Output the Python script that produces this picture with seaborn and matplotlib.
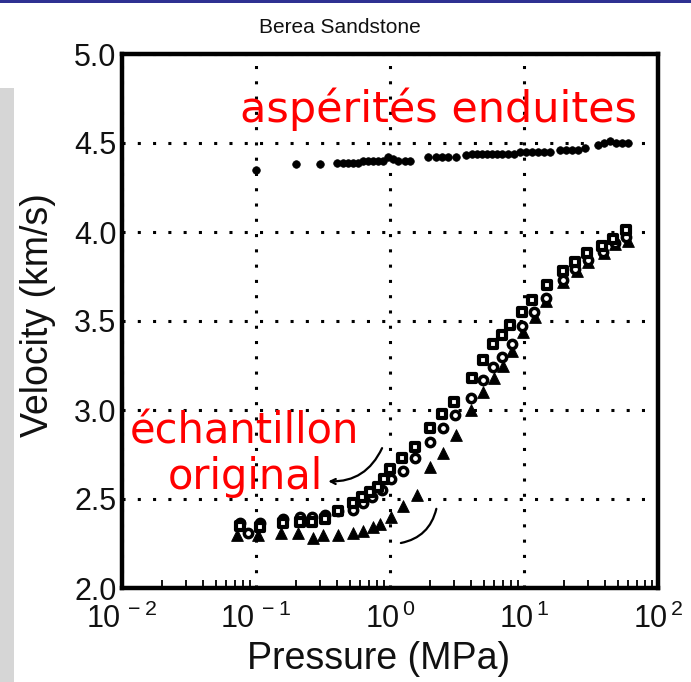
import matplotlib
matplotlib.use("Agg")
import matplotlib.pyplot as plt
import seaborn as sns
from matplotlib.patches import Rectangle
from matplotlib.ticker import LogLocator, NullFormatter

# Coated asperities (filled dots)
coated_p = [0.10, 0.20, 0.30, 0.40, 0.446, 0.486, 0.53, 0.577, 0.629, 0.686,
            0.746, 0.813, 0.887, 0.966, 1.05, 1.15, 1.29, 1.41, 1.92, 2.20,
            2.44, 2.71, 3.11, 3.69, 4.09, 4.46, 4.86, 5.30, 5.77, 6.29,
            6.85, 7.60, 8.41, 9.33, 10.3, 11.5, 12.7, 14.1, 15.6, 18.6,
            20.6, 22.8, 25.3, 28.5, 35.6, 39.5, 43.8, 48.6, 53.8, 59.7]
coated_v = [4.35, 4.38, 4.38, 4.39, 4.39, 4.39, 4.39, 4.39, 4.40, 4.40,
            4.40, 4.40, 4.40, 4.42, 4.41, 4.40, 4.40, 4.40, 4.42, 4.42,
            4.42, 4.42, 4.42, 4.43, 4.44, 4.44, 4.44, 4.44, 4.44, 4.44,
            4.44, 4.44, 4.44, 4.45, 4.45, 4.45, 4.45, 4.45, 4.45, 4.46,
            4.46, 4.46, 4.46, 4.47, 4.49, 4.50, 4.51, 4.50, 4.50, 4.50]

# Original sample, three measurement sets
square_p = [0.076, 0.107, 0.158, 0.213, 0.262, 0.327, 0.409, 0.525, 0.62, 0.71,
            0.81, 0.90, 1.00, 1.23, 1.54, 1.99, 2.45, 3.0, 4.1, 4.94,
            5.87, 6.85, 7.8, 9.66, 11.5, 14.9, 19.5, 24.0, 29.3, 38.0,
            46.0, 58.0]
square_v = [2.35, 2.34, 2.365, 2.37, 2.37, 2.39, 2.43, 2.48, 2.51, 2.54,
            2.57, 2.61, 2.67, 2.73, 2.79, 2.90, 2.98, 3.045, 3.18, 3.28,
            3.37, 3.42, 3.48, 3.55, 3.62, 3.70, 3.78, 3.83, 3.88, 3.92,
            3.96, 4.01]

circle_p = [0.076, 0.087, 0.107, 0.158, 0.213, 0.262, 0.327, 0.409, 0.525, 0.625,
            0.73, 0.87, 1.02, 1.24, 1.54, 1.99, 2.47, 3.05, 4.02, 4.94,
            5.87, 6.85, 8.2, 9.66, 11.9, 14.6, 19.5, 24.0, 30.0, 38.9,
            47.6, 58.0]
circle_v = [2.365, 2.31, 2.365, 2.39, 2.40, 2.40, 2.41, 2.43, 2.44, 2.48,
            2.51, 2.55, 2.61, 2.66, 2.73, 2.82, 2.90, 2.97, 3.07, 3.17,
            3.24, 3.30, 3.37, 3.47, 3.55, 3.63, 3.73, 3.79, 3.84, 3.89,
            3.94, 3.97]

triangle_p = [0.072, 0.103, 0.154, 0.206, 0.266, 0.315, 0.409, 0.53, 0.625, 0.75,
              0.84, 1.02, 1.24, 1.58, 1.99, 2.47, 3.1, 4.02, 4.94, 5.96,
              6.97, 8.2, 9.83, 12.1, 14.6, 19.5, 24.7, 30.0, 39.5, 47.6,
              59.5]
triangle_v = [2.30, 2.30, 2.31, 2.31, 2.28, 2.30, 2.30, 2.31, 2.32, 2.34,
              2.36, 2.40, 2.46, 2.52, 2.68, 2.76, 2.86, 3.00, 3.10, 3.18,
              3.25, 3.33, 3.44, 3.52, 3.61, 3.72, 3.78, 3.83, 3.88, 3.93,
              3.95]

x_ticks = [0.01, 0.1, 1, 10, 100]
x_tick_labels = [r"$\mathdefault{10^{\,-2}}$", r"$\mathdefault{10^{\,-1}}$",
                 r"$\mathdefault{10^{\,0}}$", r"$\mathdefault{10^{\,1}}$",
                 r"$\mathdefault{10^{\,2}}$"]
y_ticks = [2.0, 2.5, 3.0, 3.5, 4.0, 4.5, 5.0]

sns.set_theme(style="white")
plt.rcParams["font.family"] = ["Liberation Sans", "DejaVu Sans"]
plt.rcParams["mathtext.fontset"] = "custom"
plt.rcParams["mathtext.rm"] = "Liberation Sans"
plt.rcParams["axes.unicode_minus"] = False

fig = plt.figure(figsize=(6.91, 6.82), dpi=100)
fig.patch.set_facecolor("white")

# slide frame: blue rule at the top, grey panel down the left edge
fig.patches.append(Rectangle((0, 1 - 3 / 682), 1, 3 / 682, transform=fig.transFigure,
                             facecolor="#2e3192", edgecolor="none", zorder=0))
fig.patches.append(Rectangle((0, 0), 14 / 691, (682 - 88) / 682, transform=fig.transFigure,
                             facecolor="#d6d6d6", edgecolor="none", zorder=0))

ax = fig.add_axes([122 / 691, 1 - 588 / 682, 536 / 691, 534 / 682])
ax.set_xscale("log")

sns.scatterplot(x=triangle_p, y=triangle_v, marker="^", s=72, color="black",
                edgecolor="black", linewidth=0.6, ax=ax, zorder=3)
sns.scatterplot(x=circle_p, y=circle_v, marker="o", s=36, facecolor="white",
                edgecolor="black", linewidth=2.5, ax=ax, zorder=4)
sns.scatterplot(x=square_p, y=square_v, marker="s", s=32, facecolor="white",
                edgecolor="black", linewidth=3.0, ax=ax, zorder=5)
sns.scatterplot(x=coated_p, y=coated_v, marker="o", s=30, color="black",
                edgecolor="black", linewidth=0.5, ax=ax, zorder=3)

ax.set_xlim(0.01, 100)
ax.set_ylim(2.0, 5.0)
ax.set_xticks(x_ticks)
ax.set_xticklabels(x_tick_labels)
ax.xaxis.set_minor_locator(LogLocator(base=10, subs=range(2, 10), numticks=20))
ax.xaxis.set_minor_formatter(NullFormatter())
ax.set_yticks(y_ticks)
ax.set_yticklabels([f"{v:.1f}" for v in y_ticks])

ax.grid(True, which="major", color="black", linestyle=(0, (1, 4)), linewidth=2.2)
ax.set_axisbelow(True)
for side in ax.spines.values():
    side.set_color("black")
    side.set_linewidth(3.2)

ax.tick_params(axis="both", which="major", direction="in", length=9, width=1.6,
               color="black", labelsize=22, labelcolor="#111111")
ax.tick_params(axis="x", which="major", pad=11)
ax.tick_params(axis="y", which="major", pad=4)
ax.tick_params(axis="x", which="minor", direction="in", length=6, width=1.3,
               color="black", bottom=True)
ax.tick_params(top=False, right=False, which="both")

ax.set_xlabel("Pressure (MPa)", fontsize=27, color="#111111")
ax.set_ylabel("Velocity (km/s)", fontsize=27, color="#111111")
ax.xaxis.set_label_coords(0.4795, -0.1)
ax.yaxis.set_label_coords(-0.123, 0.511)

fig.text(340 / 691, 1 - 33 / 682, "Berea Sandstone", ha="center", va="baseline",
         fontsize=15, color="#111111")

red_font = ["DejaVu Sans"]
ax.text(0.59, 0.873, "aspérités enduites", transform=ax.transAxes, ha="center",
        va="baseline", fontsize=31, color="#ff0000", family=red_font, zorder=6)
ax.text(0.228, 0.2715, "échantillon", transform=ax.transAxes, ha="center",
        va="baseline", fontsize=30, color="#ff0000", family=red_font, zorder=6)
ax.text(0.2295, 0.185, "original", transform=ax.transAxes, ha="center",
        va="baseline", fontsize=30, color="#ff0000", family=red_font, zorder=6)

ax.annotate("", xy=(0.33, 2.60), xytext=(0.89, 2.80),
            arrowprops=dict(arrowstyle="->", color="black", lw=1.6,
                            connectionstyle="arc3,rad=-0.35", mutation_scale=9))
ax.annotate("", xy=(1.15, 2.25), xytext=(2.24, 2.46),
            arrowprops=dict(arrowstyle="-", color="black", lw=1.6,
                            connectionstyle="arc3,rad=-0.35"))

fig.savefig("out.png", dpi=100, facecolor=fig.get_facecolor())
